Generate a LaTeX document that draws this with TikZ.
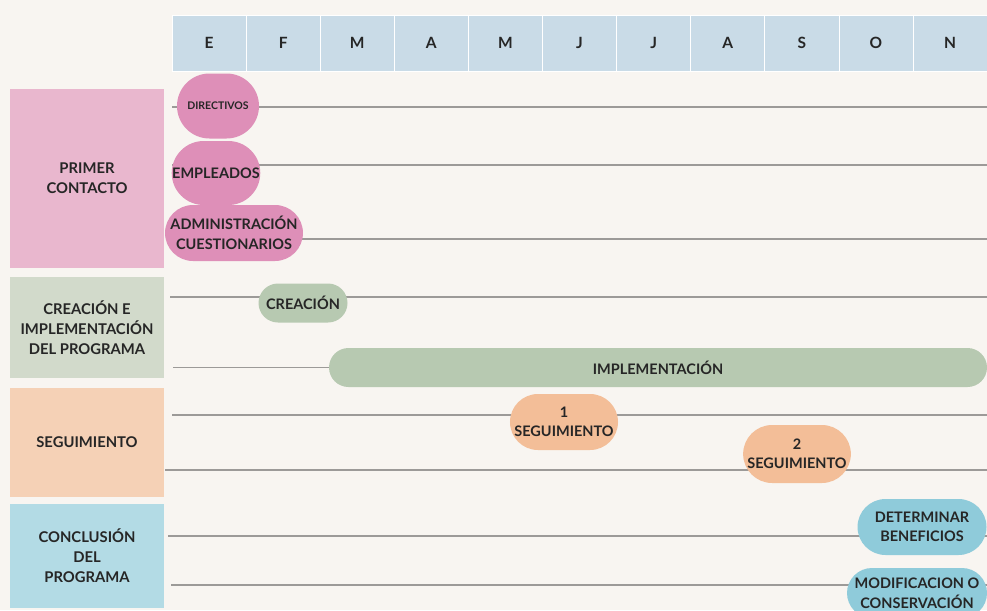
\documentclass[tikz,border=0pt]{standalone}
\usepackage{fontspec}
\setmainfont{Lato}
\usetikzlibrary{shapes.misc, positioning}
\definecolor{paper}{HTML}{F8F5F1}
\definecolor{headblue}{HTML}{C9DBE7}
\definecolor{ink}{HTML}{262626}
\definecolor{linegray}{HTML}{9C9A98}
\definecolor{pinkbox}{HTML}{E9B7CE}
\definecolor{pinkpill}{HTML}{DE8FB8}
\definecolor{greenbox}{HTML}{D2DACB}
\definecolor{greenpill}{HTML}{B7C9B1}
\definecolor{orangebox}{HTML}{F5D1B6}
\definecolor{orangepill}{HTML}{F3BE98}
\definecolor{bluebox}{HTML}{B3DBE5}
\definecolor{bluepill}{HTML}{8FCBDA}

\begin{document}
\begin{tikzpicture}[
  x=1pt, y=-1pt,
  month/.style={rectangle, fill=headblue, draw=white, line width=0.8pt, minimum width=74.1pt, minimum height=56pt, inner sep=0pt, text=ink, font=\bfseries\fontsize{15.5}{17}\selectfont},
  catbox/.style={rectangle, minimum width=154pt, inner sep=0pt, align=center, text=ink, font=\bfseries\fontsize{14.8}{20}\selectfont},
  pill/.style={rounded rectangle, inner sep=0pt, align=center, text=ink, font=\bfseries\fontsize{14.5}{19.5}\selectfont},
  rowline/.style={draw=linegray, line width=1.3pt}
]
  \useasboundingbox (0,0) rectangle (987,610);
  \clip (0,0) rectangle (987,610);
  \fill[paper] (0,0) rectangle (987,610);

  % months
  \foreach \m [count=\i from 0] in {E,F,M,A,M,J,J,A,S,O,N}
    \node[month] (m\i) at ({209.05+74.1*\i}, 43) {\m};

  % phases
  \node[catbox, fill=pinkbox, minimum height=179pt] (primer) at (87,178.5) {PRIMER\\CONTACTO};
  \node[catbox, fill=greenbox, minimum height=101pt] (creaimpl) at (87,327.5) {CREACIÓN E\\IMPLEMENTACIÓN\\DEL PROGRAMA};
  \node[catbox, fill=orangebox, minimum height=109pt] (seguim) at (87,442.5) {SEGUIMIENTO};
  \node[catbox, fill=bluebox, minimum height=104pt] (conclus) at (87,556) {CONCLUSIÓN\\DEL\\PROGRAMA};

  % row lines
  \coordinate (dirA) at (172,107);   \coordinate (dirB) at (987,107);
  \coordinate (empA) at (172,165);   \coordinate (empB) at (987,165);
  \coordinate (admA) at (172,239);   \coordinate (admB) at (987,239);
  \coordinate (creA) at (170,297);   \coordinate (creB) at (987,297);
  \coordinate (impA) at (173,367.5);
  \coordinate (sgaA) at (172,415);   \coordinate (sgaB) at (987,415);
  \coordinate (sgbA) at (165,470);   \coordinate (sgbB) at (987,470);
  \coordinate (detA) at (168,536);   \coordinate (detB) at (987,536);
  \coordinate (modA) at (171,585);   \coordinate (modB) at (987,585);
  \foreach \r in {dir,emp,adm,cre,sga,sgb,det,mod}
    \draw[rowline] (\r A) -- (\r B);

  % tasks
  \node[pill, fill=pinkpill, minimum width=82pt, minimum height=65pt, font=\bfseries\fontsize{10.5}{12}\selectfont] (directivos) at (218,106) {DIRECTIVOS};
  \node[pill, fill=pinkpill, minimum width=85pt, minimum height=64pt] (empleados) at (216,173) {EMPLEADOS};
  \node[pill, fill=pinkpill, minimum width=132pt, minimum height=56pt] (admin) at (234,233) {ADMINISTRACIÓN\\CUESTIONARIOS};
  \node[pill, fill=greenpill, minimum width=89pt, minimum height=39pt] (creacion) at (303,303) {CREACIÓN};
  \node[pill, fill=greenpill, minimum width=658pt, minimum height=39pt] (implem) at (658,367.5) {IMPLEMENTACIÓN};
  \node[pill, fill=orangepill, minimum width=106pt, minimum height=56pt] (seguno) at (564,422) {1\\SEGUIMIENTO};
  \node[pill, fill=orangepill, minimum width=100pt, minimum height=58pt] (segdos) at (797,454) {2\\SEGUIMIENTO};
  \node[pill, fill=bluepill, minimum width=129pt, minimum height=56pt] (determ) at (922,527) {DETERMINAR\\BENEFICIOS};
  \node[pill, fill=bluepill, minimum width=140pt, minimum height=50pt] (modif) at (917,593) {MODIFICACION O\\CONSERVACIÓN};

  \draw[rowline] (impA) -- (impA -| implem.west);
\end{tikzpicture}
\end{document}
